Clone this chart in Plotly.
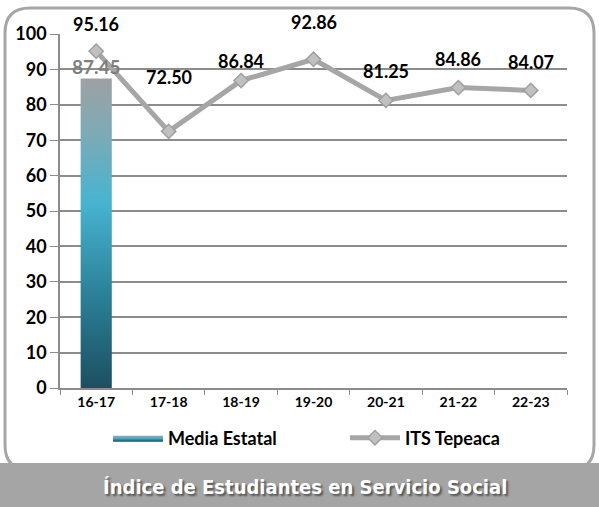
import plotly.graph_objects as go

categories = ["16-17", "17-18", "18-19", "19-20", "20-21", "21-22", "22-23"]
its_tepeaca = [95.16, 72.50, 86.84, 92.86, 81.25, 84.86, 84.07]
media_estatal_cat = ["16-17"]
media_estatal = [87.45]
y_ticks = [0, 10, 20, 30, 40, 50, 60, 70, 80, 90, 100]
label_yshift = [27, 54, 20, 37, 29, 29, 28]

FONT = "Lato"
W, H = 599, 507
ML, MR, MT, MB = 60, 32, 34, 119
PW, PH = W - ML - MR, H - MT - MB

fig = go.Figure()

# gradient bar (Media Estatal) drawn on an overlaid numeric axis aligned with the categories
half = 0.215
for cat, val in zip(media_estatal_cat, media_estatal):
    i = categories.index(cat)
    fig.add_trace(go.Scatter(
        x=[i - half, i + half, i + half, i - half, i - half],
        y=[0, 0, val, val, 0],
        xaxis="x2", yaxis="y",
        mode="lines", line=dict(width=0),
        fill="toself",
        fillgradient=dict(type="vertical", start=0, stop=val,
                          colorscale=[[0, "#1c4f60"], [0.3, "#2b8098"], [0.6, "#47b4d0"],
                                      [0.82, "#7daab7"], [1, "#9ea1a3"]]),
        name="Media Estatal", showlegend=True, hoverinfo="skip",
    ))
    fig.add_trace(go.Scatter(
        x=[i], y=[val], xaxis="x2", yaxis="y", mode="text",
        text=[f"{val:.2f}"], textposition="top center",
        textfont=dict(family=FONT, size=19, color="#7f7f7f", weight="bold"),
        showlegend=False, hoverinfo="skip",
    ))

fig.add_trace(go.Scatter(
    x=categories, y=its_tepeaca, mode="lines+markers",
    line=dict(color="#a6a6a6", width=5),
    marker=dict(symbol="diamond", size=11, color="#c0c0c0",
                line=dict(color="#a0a0a0", width=1.5)),
    name="ITS Tepeaca",
))

for c, v, s in zip(categories, its_tepeaca, label_yshift):
    fig.add_annotation(x=c, y=v, text=f"{v:.2f}", showarrow=False, yshift=s,
                       font=dict(family=FONT, size=18, color="#000000", weight="bold"))

# rounded border
r = 25
x0p, x1p = (5 - ML) / PW, (594 - ML) / PW
y0p, y1p = (MT + PH - 470) / PH, (MT + PH - 8) / PH
rx, ry = r / PW, r / PH
path = (f"M {x0p+rx},{y1p} L {x1p-rx},{y1p} Q {x1p},{y1p} {x1p},{y1p-ry} "
        f"L {x1p},{y0p+ry} Q {x1p},{y0p} {x1p-rx},{y0p} L {x0p+rx},{y0p} "
        f"Q {x0p},{y0p} {x0p},{y0p+ry} L {x0p},{y1p-ry} Q {x0p},{y1p} {x0p+rx},{y1p} Z")
fig.add_shape(type="path", path=path, xref="paper", yref="paper",
              line=dict(color="#a6a6a6", width=3), layer="below")
# bottom banner
fig.add_shape(type="rect", xref="paper", yref="paper",
              x0=-ML / PW, x1=(W - ML) / PW,
              y0=(MT + PH - H) / PH, y1=(MT + PH - 463) / PH,
              fillcolor="#a5a5a5", line=dict(width=0), layer="above")
fig.add_annotation(xref="paper", yref="paper", x=(305 - ML) / PW, y=(MT + PH - 487) / PH,
                   xanchor="center", yanchor="middle",
                   text="Índice de Estudiantes en Servicio Social", showarrow=False,
                   font=dict(family="DejaVu Sans Condensed", size=20, color="#ffffff",
                             weight="bold", shadow="2px 2px 2px #555555"))

fig.update_layout(
    width=W, height=H, margin=dict(l=ML, r=MR, t=MT, b=MB),
    plot_bgcolor="#ffffff", paper_bgcolor="#ffffff",
    font=dict(family=FONT, color="#000000"),
    xaxis=dict(type="category", categoryorder="array", categoryarray=categories,
               range=[-0.5, len(categories) - 0.5], showgrid=False,
               showline=True, linecolor="#8c8c8c", linewidth=1.5,
               ticks="outside", tickson="boundaries", ticklen=5, tickcolor="#8c8c8c",
               tickfont=dict(family=FONT, size=14, color="#000000", weight="bold")),
    xaxis2=dict(overlaying="x", anchor="y", range=[-0.5, len(categories) - 0.5],
                visible=False),
    yaxis=dict(range=[0, 100], tickvals=y_ticks, showgrid=True, gridcolor="#8c8c8c",
               gridwidth=1.5, showline=True, linecolor="#8c8c8c", linewidth=1.5,
               ticks="outside", ticklen=8, tickcolor="#8c8c8c", zeroline=False,
               tickfont=dict(family=FONT, size=18, color="#000000", weight="bold")),
    legend=dict(orientation="h", x=(108 - ML) / PW, xanchor="left", y=(MT + PH - 438) / PH,
                yanchor="middle", font=dict(family=FONT, size=18, color="#000000", weight="bold"),
                entrywidth=172, itemwidth=50, bgcolor="rgba(0,0,0,0)"),
    showlegend=True,
)

fig.write_html("out.html", post_script="document.body.style.margin='0';",
               config={"displayModeBar": False})
